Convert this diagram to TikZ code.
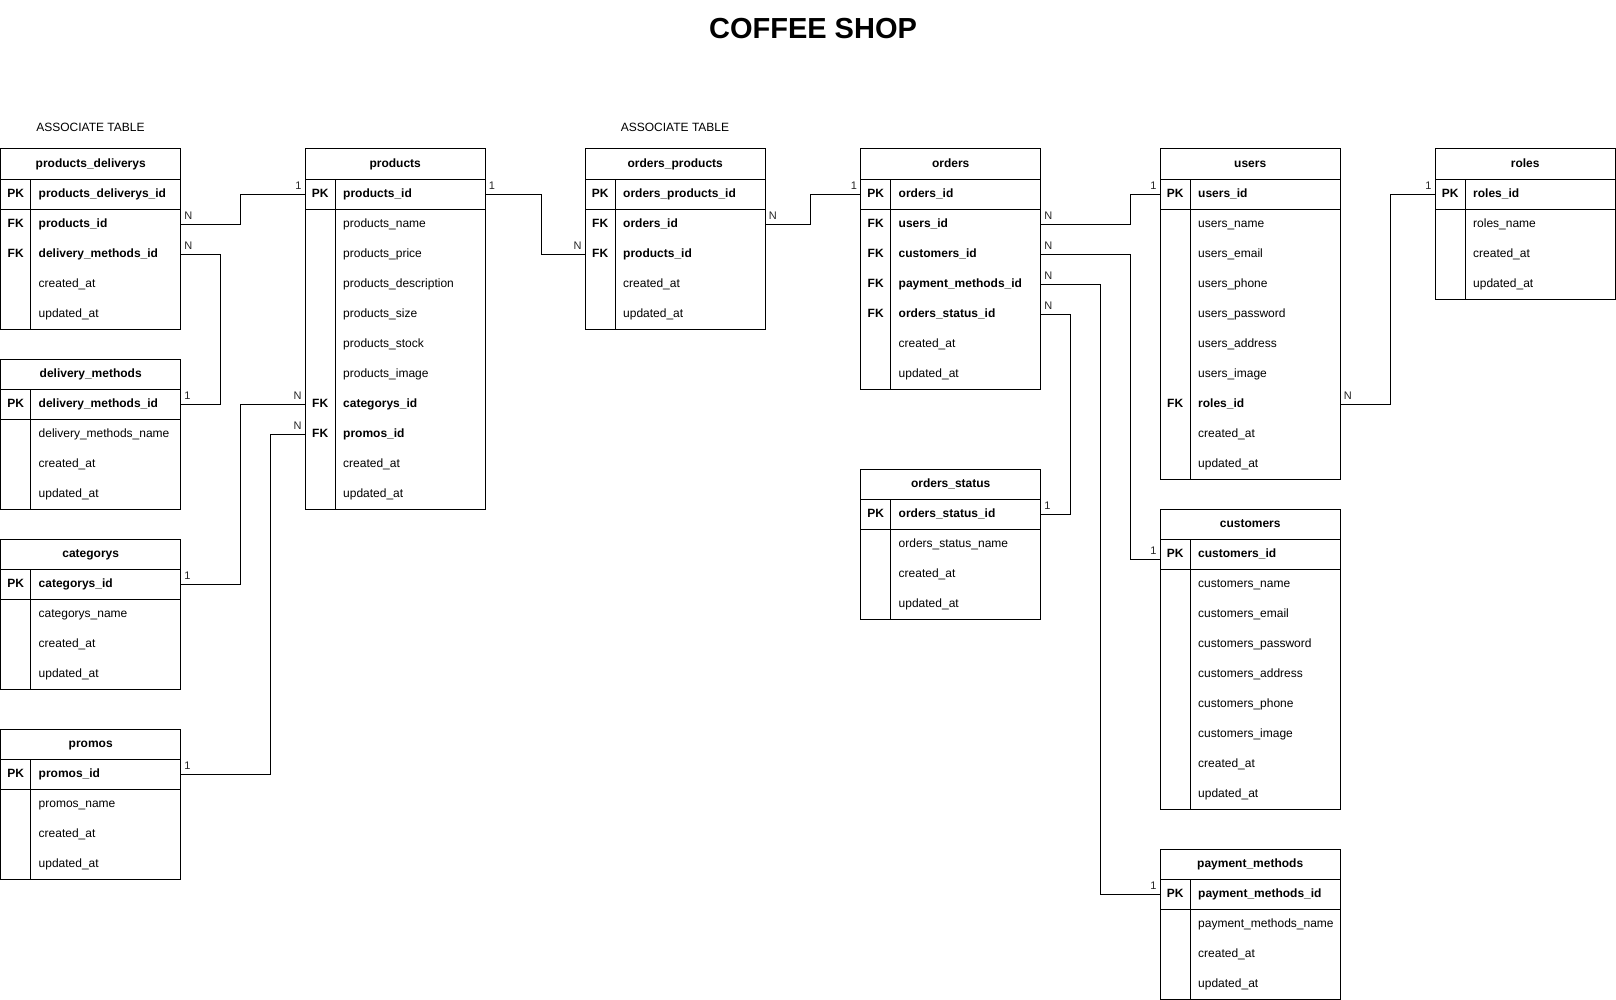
\documentclass[tikz,border=0pt]{standalone}
\usepackage{fontspec}
\setmainfont{Liberation Sans}
\usepackage{tikz}
\usetikzlibrary{calc}
\usetikzlibrary{positioning}

\tikzset{
    tblhead/.style = {anchor=north west, minimum width=180pt, minimum height=30pt, inner sep=0pt,
                      text height=9pt, text depth=3pt, font=\fontsize{12}{14}\selectfont\bfseries},
    keyrow/.style  = {anchor=north west, minimum height=30pt, inner sep=0pt,
                      text height=9pt, text depth=3pt, font=\fontsize{12}{14}\selectfont\bfseries},
    attrrow/.style = {keyrow, font=\fontsize{12}{14}\selectfont},
    rel/.style     = {line width=1pt},
    card/.style    = {inner sep=0pt, font=\fontsize{11}{13}\selectfont, text=black!85},
    cardR/.style   = {card, anchor=south west, xshift=3pt,  yshift=4pt},
    cardL/.style   = {card, anchor=south east, xshift=-3pt, yshift=4pt},
    note/.style    = {font=\fontsize{12}{14}\selectfont},
}

% table: name, left x, top y, title, rows (key/field/style)
\newcommand{\ertable}[5]{%
    \node[tblhead] (#1) at (#2,#3) {#4};
    \foreach \k/\f/\s [count=\i] in {#5}{
        \node[\s] (#1-\i) at (#2,{#3+30*\i}) {\makebox[180pt][l]{\makebox[30pt]{\k}\hspace{8pt}\f}};
        \xdef\lastrow{\i}
    }
    \draw[rel] (#1.north west) rectangle (#1-\lastrow.south east);
    \draw[rel] (#1.south west)   -- (#1.south east);
    \draw[rel] (#1-1.south west) -- (#1-1.south east);
    \draw[rel] ($(#1.south west)+(30,0)$) -- ($(#1-\lastrow.south west)+(30,0)$);
}

\begin{document}
\begin{tikzpicture}[x=1pt, y=-1pt]
    \useasboundingbox (0,0) rectangle (1616,1000);

    \node[font=\fontsize{29}{34}\selectfont\bfseries] (title) at (813,29) {COFFEE SHOP};
    \node[note] (assoc-pd) at (90.5,127) {ASSOCIATE TABLE};
    \node[note] (assoc-op) at (675,127)  {ASSOCIATE TABLE};

    % left column
    \ertable{pd}{0.5}{149}{products\_deliverys}{PK/products\_deliverys\_id/keyrow, FK/products\_id/keyrow,
        FK/delivery\_methods\_id/keyrow, /created\_at/attrrow, /updated\_at/attrrow}
    \ertable{dm}{0.5}{359}{delivery\_methods}{PK/delivery\_methods\_id/keyrow, /delivery\_methods\_name/attrrow,
        /created\_at/attrrow, /updated\_at/attrrow}
    \ertable{categorys}{0.5}{539}{categorys}{PK/categorys\_id/keyrow, /categorys\_name/attrrow,
        /created\_at/attrrow, /updated\_at/attrrow}
    \ertable{promos}{0.5}{729}{promos}{PK/promos\_id/keyrow, /promos\_name/attrrow,
        /created\_at/attrrow, /updated\_at/attrrow}

    \ertable{products}{305}{149}{products}{PK/products\_id/keyrow, /products\_name/attrrow,
        /products\_price/attrrow, /products\_description/attrrow, /products\_size/attrrow,
        /products\_stock/attrrow, /products\_image/attrrow, FK/categorys\_id/keyrow,
        FK/promos\_id/keyrow, /created\_at/attrrow, /updated\_at/attrrow}
    \ertable{op}{585}{149}{orders\_products}{PK/orders\_products\_id/keyrow, FK/orders\_id/keyrow,
        FK/products\_id/keyrow, /created\_at/attrrow, /updated\_at/attrrow}

    \ertable{orders}{860.5}{149}{orders}{PK/orders\_id/keyrow, FK/users\_id/keyrow, FK/customers\_id/keyrow,
        FK/payment\_methods\_id/keyrow, FK/orders\_status\_id/keyrow, /created\_at/attrrow, /updated\_at/attrrow}
    \ertable{os}{860.5}{469}{orders\_status}{PK/orders\_status\_id/keyrow, /orders\_status\_name/attrrow,
        /created\_at/attrrow, /updated\_at/attrrow}

    % right column
    \ertable{users}{1160}{149}{users}{PK/users\_id/keyrow, /users\_name/attrrow, /users\_email/attrrow,
        /users\_phone/attrrow, /users\_password/attrrow, /users\_address/attrrow, /users\_image/attrrow,
        FK/roles\_id/keyrow, /created\_at/attrrow, /updated\_at/attrrow}
    \ertable{customers}{1160}{509}{customers}{PK/customers\_id/keyrow, /customers\_name/attrrow,
        /customers\_email/attrrow, /customers\_password/attrrow, /customers\_address/attrrow,
        /customers\_phone/attrrow, /customers\_image/attrrow, /created\_at/attrrow, /updated\_at/attrrow}
    \ertable{pm}{1160}{849}{payment\_methods}{PK/payment\_methods\_id/keyrow, /payment\_methods\_name/attrrow,
        /created\_at/attrrow, /updated\_at/attrrow}
    \ertable{roles}{1435}{149}{roles}{PK/roles\_id/keyrow, /roles\_name/attrrow,
        /created\_at/attrrow, /updated\_at/attrrow}

    % relations
    \draw[rel] (pd-2.east)        node[cardR] (pd-n1) {N} -- ++(59.5,0) |- (products-1.west) node[cardL] (products-c1) {1};
    \draw[rel] (pd-3.east)        node[cardR] (pd-n2) {N} -- ++(39.5,0) |- (dm-1.east)       node[cardR] (dm-c1) {1};
    \draw[rel] (categorys-1.east) node[cardR] (categorys-c1) {1} -- ++(59.5,0) |- (products-8.west) node[cardL] (products-n1) {N};
    \draw[rel] (promos-1.east)    node[cardR] (promos-c1) {1} -- ++(89.5,0) |- (products-9.west) node[cardL] (products-n2) {N};
    \draw[rel] (products-1.east)  node[cardR] (products-c2) {1} -- ++(56,0) |- (op-3.west) node[cardL] (op-n1) {N};
    \draw[rel] (op-2.east)        node[cardR] (op-n2) {N} -- ++(45,0) |- (orders-1.west) node[cardL] (orders-c1) {1};
    \draw[rel] (orders-2.east)    node[cardR] (orders-n1) {N} -- ++(89.5,0) |- (users-1.west) node[cardL] (users-c1) {1};
    \draw[rel] (orders-3.east)    node[cardR] (orders-n2) {N} -- ++(89.5,0) |- ([yshift=-5pt]customers-1.west) node[cardL] (customers-c1) {1};
    \draw[rel] (orders-4.east)    node[cardR] (orders-n3) {N} -- ++(59.5,0) |- (pm-1.west) node[cardL] (pm-c1) {1};
    \draw[rel] (orders-5.east)    node[cardR] (orders-n4) {N} -- ++(29.5,0) |- (os-1.east) node[cardR] (os-c1) {1};
    \draw[rel] (users-8.east)     node[cardR] (users-n1) {N} -- ++(50,0) |- (roles-1.west) node[cardL] (roles-c1) {1};
\end{tikzpicture}
\end{document}
